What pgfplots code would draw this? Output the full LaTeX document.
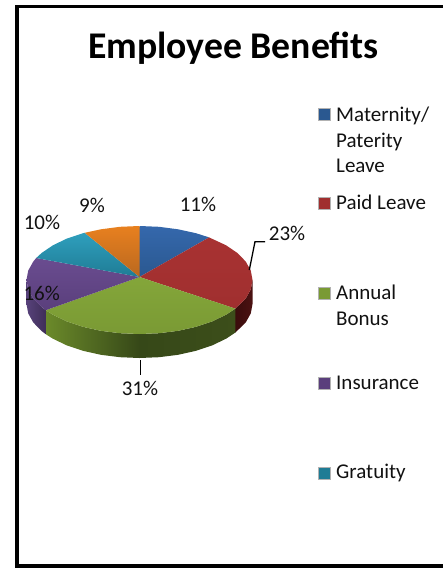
\documentclass[border=0pt]{standalone}
\usepackage{pgfplots}
\pgfplotsset{compat=1.18}
\usepackage{fontspec}
\setmainfont{Carlito}
\definecolor{txt}{HTML}{111111}
\definecolor{blueT}{HTML}{3568AC}\definecolor{blueB}{HTML}{2A5890}
\definecolor{redT}{HTML}{A83232}\definecolor{redB}{HTML}{A02F2F}
\definecolor{greenT}{HTML}{84A63A}\definecolor{greenB}{HTML}{7A9A34}
\definecolor{purpT}{HTML}{6A4C90}\definecolor{purpB}{HTML}{5A3F7C}
\definecolor{tealT}{HTML}{2F9FBD}\definecolor{tealB}{HTML}{1F7C95}
\definecolor{orT}{HTML}{E8801F}\definecolor{orB}{HTML}{B9681F}
\definecolor{redW}{HTML}{3A0C0C}\definecolor{redW2}{HTML}{4C1212}
\definecolor{grW1}{HTML}{6B8A2A}\definecolor{grW2}{HTML}{364818}
\definecolor{grW3}{HTML}{28350F}\definecolor{grW4}{HTML}{3C4E1A}
\definecolor{puW1}{HTML}{57417A}\definecolor{puW2}{HTML}{3F2E58}
\begin{document}
\begin{tikzpicture}
\begin{axis}[
  scale only axis, width=443pt, height=568pt,
  xmin=0, xmax=443, ymin=0, ymax=568, y dir=reverse,
  axis line style={draw=none}, ticks=none,
]
% frame
\addplot[black, line width=3.4pt, line join=miter] coordinates {(443,6.5) (17,6.5) (17,566) (443,566)};
% side walls
\addplot[draw=none, left color=redW, right color=redW2] coordinates {(252.5,280)(250.8,289.4)(245.7,298.5)(235.3,308.6)(235.3,332.6)(245.7,322.5)(250.8,313.4)(252.5,304)} --cycle;
\addplot[draw=none, left color=grW2, middle color=grW3, right color=grW4] coordinates {(235.3,308.6)(226.1,314.7)(212.2,321.4)(196,326.8)(178.1,330.8)(159.1,333.2)(139.5,334)(139.5,358)(159.1,357.2)(178.1,354.8)(196,350.8)(212.2,345.4)(226.1,338.7)(235.3,332.6)} --cycle;
\addplot[draw=none, left color=grW1, right color=grW2] coordinates {(139.5,334)(119.9,333.2)(100.9,330.8)(83,326.8)(66.8,321.4)(52.9,314.7)(45.8,310.2)(45.8,334.2)(52.9,338.7)(66.8,345.4)(83,350.8)(100.9,354.8)(119.9,357.2)(139.5,358)} --cycle;
\addplot[draw=none, left color=puW1, right color=puW2] coordinates {(26.5,280)(28.2,289.4)(33.3,298.5)(41.6,307)(45.8,310.2)(45.8,334.2)(41.6,331)(33.3,322.5)(28.2,313.4)(26.5,304)} --cycle;
% top faces
\addplot[draw=none, top color=blueT, bottom color=blueB] coordinates {(139.5,277)(139.5,226)(159.1,226.8)(178.1,229.3)(196,233.2)(209.1,237.4)} --cycle;
\addplot[draw=none, top color=redT, bottom color=redB] coordinates {(139.5,277)(209.1,237.4)(226.1,245.3)(237.4,253)(245.7,261.5)(250.8,270.6)(252.5,280)(250.8,289.4)(245.7,298.5)(235.3,308.6)} --cycle;
\addplot[draw=none, top color=greenT, bottom color=greenB] coordinates {(139.5,277)(235.3,308.6)(226.1,314.7)(212.2,321.4)(196,326.8)(178.1,330.8)(159.1,333.2)(139.5,334)(119.9,333.2)(100.9,330.8)(83,326.8)(66.8,321.4)(52.9,314.7)(45.8,310.2)} --cycle;
\addplot[draw=none, top color=purpT, bottom color=purpB] coordinates {(139.5,277)(45.8,310.2)(41.6,307)(33.3,298.5)(28.2,289.4)(26.5,280)(28.2,270.6)(33.3,261.5)(36.2,258)} --cycle;
\addplot[draw=none, top color=tealT, bottom color=tealB] coordinates {(139.5,277)(36.2,258)(41.6,253)(52.9,245.3)(66.8,238.6)(83,233.2)(84.7,232.8)} --cycle;
\addplot[draw=none, top color=orT, bottom color=orB] coordinates {(139.5,277)(84.7,232.8)(100.9,229.3)(119.9,226.8)(139.5,226)} --cycle;
% leader lines
\addplot[black, line width=1.3pt] coordinates {(265,241.7)(255,241.7)(249.3,270)};
\addplot[black, line width=1.3pt] coordinates {(140.7,360)(140.7,375)};
% legend keys
\addplot[only marks, mark=square*, mark size=6pt, mark options={draw=gray!60, fill=blueB}] coordinates {(324,114)};
\addplot[only marks, mark=square*, mark size=6pt, mark options={draw=gray!60, fill=redB}] coordinates {(324,203)};
\addplot[only marks, mark=square*, mark size=6pt, mark options={draw=gray!60, fill=greenB}] coordinates {(324,293.5)};
\addplot[only marks, mark=square*, mark size=6pt, mark options={draw=gray!60, fill=purpB}] coordinates {(324,383)};
\addplot[only marks, mark=square*, mark size=6pt, mark options={draw=gray!60, fill=tealB}] coordinates {(324,473)};
% text
\node[font=\bfseries\fontsize{37.7}{37.7}\selectfont, text=black, anchor=base] at (axis cs:233.5,58) {Employee Benefits};
\foreach \t/\y in {{Maternity/}/121, Paterity/147, Leave/172, {Paid Leave}/209, Annual/299, Bonus/325, Insurance/389, Gratuity/478}{
  \edef\tmp{\noexpand\node[font=\noexpand\fontsize{21}{21}\noexpand\selectfont, text=txt, anchor=base west, inner sep=0pt] at (axis cs:336,\y) {\t};}\tmp
}
\foreach \t/\x/\y in {11/198/211, 9/92/212, 10/42/229, 16/41.7/300, 31/140/395, 23/287/240}{
  \edef\tmp{\noexpand\node[font=\noexpand\fontsize{21}{21}\noexpand\selectfont, text=txt, anchor=base, inner sep=0pt] at (axis cs:\x,\y) {\t\noexpand\%};}\tmp
}
\end{axis}
\end{tikzpicture}
\end{document}
